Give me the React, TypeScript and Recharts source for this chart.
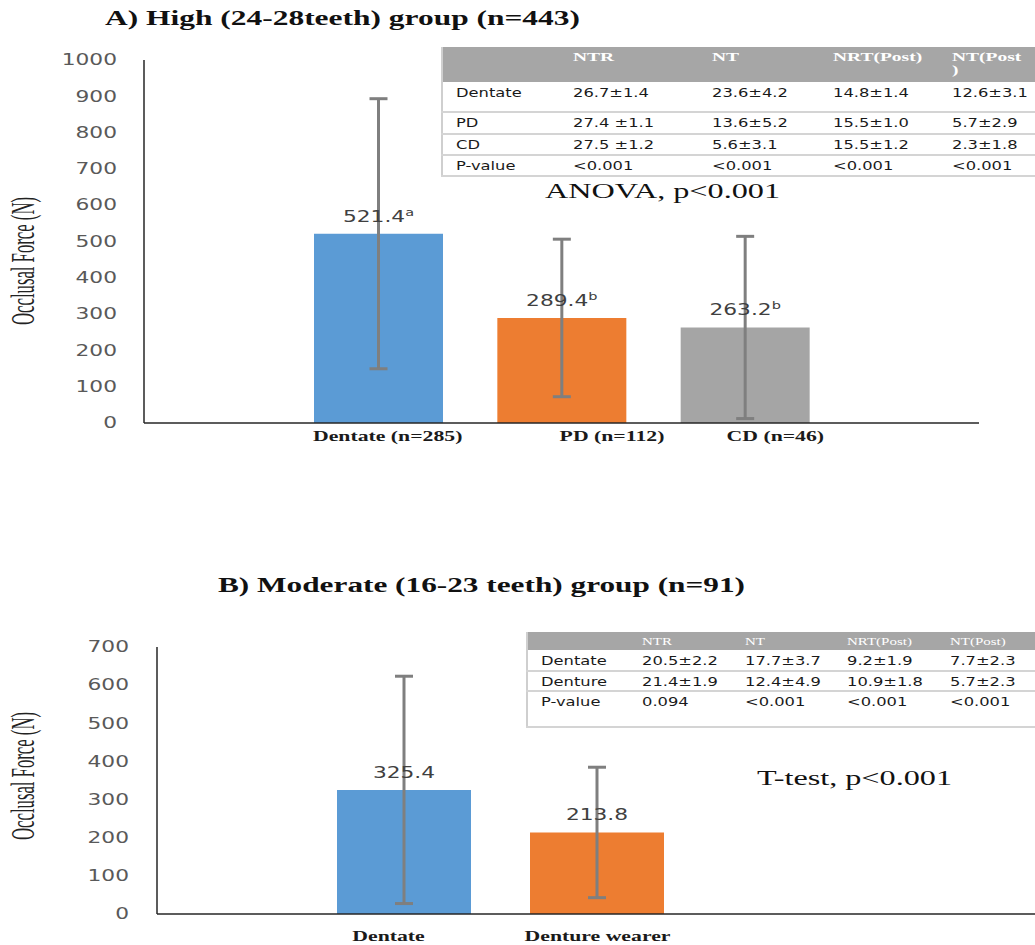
import React from 'react';
import { BarChart, Bar, XAxis, YAxis, ErrorBar, LabelList, Cell } from 'recharts';

// A) high group
const groupsA = ['Dentate (n=285)', 'PD (n=112)', 'CD (n=46)'];
const meansA = [521.4, 289.4, 263.2];
const sdA = [372, 217, 251];
const supA = ['a', 'b', 'b'];
const ticksA = [0, 100, 200, 300, 400, 500, 600, 700, 800, 900, 1000];

// B) moderate group
const groupsB = ['Dentate', 'Denture wearer'];
const meansB = [325.4, 213.8];
const sdB = [298, 171];
const ticksB = [0, 100, 200, 300, 400, 500, 600, 700];

const headA = ['NTR', 'NT', 'NRT(Post)', 'NT(Post\n)'];
const rowsA = [
  ['Dentate', '26.7±1.4', '23.6±4.2', '14.8±1.4', '12.6±3.1'],
  ['PD', '27.4 ±1.1', '13.6±5.2', '15.5±1.0', '5.7±2.9'],
  ['CD', '27.5 ±1.2', '5.6±3.1', '15.5±1.2', '2.3±1.8'],
  ['P-value', '<0.001', '<0.001', '<0.001', '<0.001'],
];
const headB = ['NTR', 'NT', 'NRT(Post)', 'NT(Post)'];
const rowsB = [
  ['Dentate', '20.5±2.2', '17.7±3.7', '9.2±1.9', '7.7±2.3'],
  ['Denture', '21.4±1.9', '12.4±4.9', '10.9±1.8', '5.7±2.3'],
  ['P-value', '0.094', '<0.001', '<0.001', '<0.001'],
];

const COLORS = ['#5b9bd5', '#ed7d31', '#a5a5a5'];
const SX = 1.45;
const SANS = 'DejaVu Sans, Verdana, sans-serif';
const SERIF = 'Liberation Serif, Times New Roman, serif';

const dataA = groupsA.map((g, i) => ({ name: g, mean: meansA[i], sd: sdA[i], sup: supA[i] }));
const dataB = groupsB.map((g, i) => ({ name: g, mean: meansB[i], sd: sdB[i], sup: '' }));

const YTick = ({ x, y, payload }: any) => (
  <g transform={`translate(${x},${y}) scale(${SX},1)`}>
    <text textAnchor="end" dominantBaseline="central" fontFamily={SANS} fontSize={15} fill="#595959">
      {payload.value}
    </text>
  </g>
);

const makeXTick = (shift: number[], drop: number) => ({ x, y, payload, index }: any) => (
  <g transform={`translate(${x + shift[index]},${y + drop}) scale(${SX},1)`}>
    <text textAnchor="middle" fontFamily={SERIF} fontWeight="bold" fontSize={15} fill="#1a1a1a">
      {payload.value}
    </text>
  </g>
);

const makeValueLabel = (data: any[]) => (props: any) => {
  const { x, y, width, value, index } = props;
  const sup = data[index]?.sup;
  return (
    <g transform={`translate(${x + width / 2},${y - 12}) scale(${SX},1)`}>
      <text textAnchor="middle" fontFamily={SANS} fontSize={15} fill="#404040">
        {value}
        {sup ? <tspan dy={-6} fontSize={10}>{sup}</tspan> : null}
      </text>
    </g>
  );
};

const Stretch = ({ x, y, w, size, bold, children }: any) => (
  <text x={x} y={y} textLength={w} lengthAdjust="spacingAndGlyphs" fontFamily={SERIF}
    fontWeight={bold ? 'bold' : 'normal'} fontSize={size} fill="#111">
    {children}
  </text>
);

const YLabel = ({ cx, cy }: any) => (
  <g transform={`translate(${cx},${cy}) scale(1.75,1) rotate(-90)`}>
    <text textAnchor="middle" dominantBaseline="central" textLength={128} lengthAdjust="spacingAndGlyphs"
      fontFamily={SERIF} fontSize={19} fill="#222">Occlusal Force (N)</text>
  </g>
);

const Table = ({ x, top, headH, head, rows, rowLines, cols, headSize, headBold, headBase, bodySize, bodySx, bottom }: any) => {
  const rowTops = [top + headH, ...rowLines];
  return (
    <g>
      <rect x={x} y={top} width={1035 - x} height={bottom - top} fill="#fff" />
      <rect x={x} y={top} width={1035 - x} height={headH} fill="#a6a6a6" />
      <line x1={x + 1} y1={top} x2={x + 1} y2={bottom} stroke="#cfcfcf" strokeWidth={2} />
      {rowLines.map((ly: number, i: number) => (
        <line key={i} x1={x} y1={ly} x2={1035} y2={ly} stroke="#d4d4d4" strokeWidth={2} />
      ))}
      {head.map((h: string, i: number) => (
        <g key={i} transform={`translate(${cols[i + 1]},${headBase}) scale(1.5,1)`}>
          {h.split('\n').map((part, k) => (
            <text key={k} y={k * 13} fontFamily={SERIF} fontWeight={headBold ? 'bold' : 'normal'} fontSize={headSize} fill="#fff">
              {part}
            </text>
          ))}
        </g>
      ))}
      {rows.map((r: string[], ri: number) =>
        r.map((c, ci) => (
          <g key={`${ri}-${ci}`} transform={`translate(${cols[ci]},${rowTops[ri] + 11}) scale(${bodySx},1)`}>
            <text dominantBaseline="central" fontFamily={SANS} fontSize={bodySize} fill="#1a1a1a">{c}</text>
          </g>
        ))
      )}
    </g>
  );
};

export default function App() {
  return (
    <div style={{ position: 'absolute', left: 0, top: 0, width: 1035, height: 945, background: '#fff' }}>
      <div style={{ position: 'absolute', left: 0, top: 0 }}>
        <BarChart width={1035} height={450} data={dataA} margin={{ top: 60, right: 56, bottom: 0, left: 0 }}>
          <XAxis dataKey="name" height={27} padding={{ left: 143, right: 142 }} tickLine={false} tickSize={0}
            tickMargin={0} stroke="#262626" strokeWidth={1.5} tick={makeXTick([9, 50, 30], 18)} interval={0} />
          <YAxis width={144} domain={[0, 1000]} ticks={ticksA} tickLine={false} tickSize={0} tickMargin={27}
            stroke="#262626" strokeWidth={1.5} tick={<YTick />} interval={0} />
          <Bar dataKey="mean" barSize={129} isAnimationActive={false}>
            {dataA.map((d, i) => <Cell key={d.name} fill={COLORS[i]} />)}
            <LabelList dataKey="mean" content={makeValueLabel(dataA)} />
            <ErrorBar dataKey="sd" width={9} strokeWidth={3} stroke="#7f7f7f" direction="y" isAnimationActive={false} />
          </Bar>
        </BarChart>
      </div>
      <div style={{ position: 'absolute', left: 0, top: 560 }}>
        <BarChart width={1035} height={385} data={dataB} margin={{ top: 87, right: 0, bottom: 0, left: 0 }}>
          <XAxis dataKey="name" height={31} padding={{ left: 150, right: 342 }} tickLine={false} tickSize={0}
            tickMargin={0} stroke="#262626" strokeWidth={1.5} tick={makeXTick([-15, 1], 27)} interval={0} />
          <YAxis width={157} domain={[0, 700]} ticks={ticksB} tickLine={false} tickSize={0} tickMargin={28}
            stroke="#262626" strokeWidth={1.5} tick={<YTick />} interval={0} />
          <Bar dataKey="mean" barSize={134} isAnimationActive={false}>
            {dataB.map((d, i) => <Cell key={d.name} fill={COLORS[i]} />)}
            <LabelList dataKey="mean" content={makeValueLabel(dataB)} />
            <ErrorBar dataKey="sd" width={9} strokeWidth={3} stroke="#7f7f7f" direction="y" isAnimationActive={false} />
          </Bar>
        </BarChart>
      </div>
      <svg width={1035} height={945} style={{ position: 'absolute', left: 0, top: 0, pointerEvents: 'none' }}>
        <Stretch x={105} y={25} w={475} size={20} bold>A) High  (24-28teeth)  group (n=443)</Stretch>
        <Stretch x={218} y={592} w={527} size={20} bold>B) Moderate (16-23  teeth) group (n=91)</Stretch>
        <Stretch x={545} y={198} w={235} size={20}>ANOVA, p&lt;0.001</Stretch>
        <Stretch x={757} y={785} w={195} size={20}>T-test, p&lt;0.001</Stretch>
        <YLabel cx={23} cy={261} />
        <YLabel cx={23} cy={776} />
        <Table x={441} top={47} headH={35} head={headA} rows={rowsA} rowLines={[112, 134, 155, 176]}
          cols={[456, 573, 712, 833, 952]} headSize={13} headBold headBase={61} bodySize={12} bodySx={1.36} bottom={177} />
        <Table x={526} top={632} headH={18} head={headB} rows={rowsB} rowLines={[671, 691, 727]}
          cols={[541, 642, 745, 847, 950]} headSize={10} headBold={false} headBase={645} bodySize={12} bodySx={1.36} bottom={728} />
      </svg>
    </div>
  );
}
